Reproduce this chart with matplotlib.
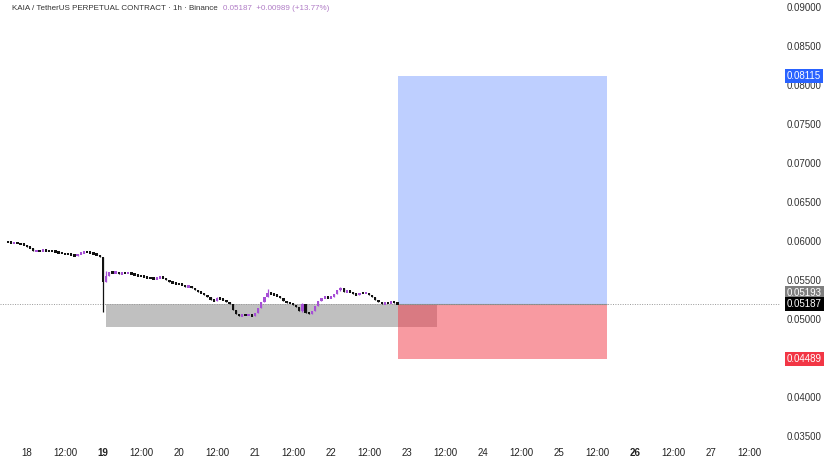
import matplotlib
matplotlib.use("Agg")
import matplotlib.pyplot as plt
from matplotlib.patches import Rectangle

# KAIA / USDT perp, 1h candles, first candle = Nov 17 18:00 (hour -6, hour 0 = Nov 18 00:00)
start_hour = -6
first_open = 0.05995
closes = [
    0.05987, 0.05974, 0.05974, 0.05968, 0.05962, 0.05949,             # 17th evening
    0.05923, 0.05910, 0.05872, 0.05878, 0.05872, 0.05885, 0.05872, 0.05870,
    0.05868, 0.05859, 0.05846, 0.05840, 0.05833, 0.05830, 0.05821, 0.05808,
    0.05833, 0.05846, 0.05859, 0.05855, 0.05846, 0.05833, 0.05821, 0.05795,  # 18th
    0.05474, 0.05551, 0.05603, 0.05590, 0.05603, 0.05577, 0.05590, 0.05588,
    0.05590, 0.05577, 0.05564, 0.05551, 0.05548, 0.05538, 0.05526, 0.05522,
    0.05513, 0.05526, 0.05538, 0.05526, 0.05500, 0.05474, 0.05462, 0.05449,  # 19th
    0.05446, 0.05436, 0.05410, 0.05423, 0.05397, 0.05372, 0.05346, 0.05333,
    0.05308, 0.05282, 0.05244, 0.05231, 0.05269, 0.05256, 0.05244, 0.05218,
    0.05192, 0.05115, 0.05064, 0.05038, 0.05051, 0.05045, 0.05051, 0.05038,  # 20th
    0.05077, 0.05141, 0.05218, 0.05282, 0.05333, 0.05321, 0.05308, 0.05295,
    0.05269, 0.05231, 0.05205, 0.05200, 0.05179, 0.05154, 0.05103, 0.05192,
    0.05077, 0.05070, 0.05103, 0.05167, 0.05231, 0.05269, 0.05282, 0.05269,  # 21st
    0.05282, 0.05321, 0.05372, 0.05397, 0.05346, 0.05359, 0.05346, 0.05321,
    0.05308, 0.05333, 0.05330, 0.05333, 0.05308, 0.05282, 0.05244, 0.05218,
    0.05192, 0.05205, 0.05200, 0.05218, 0.05210, 0.05187,                    # 22nd
]
# candles with a visible wick: hour -> (high, low)
wicks = {24: (0.05795, 0.05090), 25: (0.05610, 0.05474), 76: (0.05390, 0.05282),
         87: (0.05205, 0.05090), 99: (0.05410, 0.05359), 60: (0.05282, 0.05231)}

# long position tool + support zone
trade_start, trade_end = 117.2, 183.2
entry, target, stop, last = 0.05193, 0.08115, 0.04489, 0.05187
zone_start, zone_end, zone_low = 25, 129.5, 0.0490

tick_hours = list(range(0, 229, 12))
tick_labels = ["18", "12:00", "19", "12:00", "20", "12:00", "21", "12:00", "22", "12:00",
               "23", "12:00", "24", "12:00", "25", "12:00", "26", "12:00", "27", "12:00"]
bold_labels = ["19", "26"]
price_ticks = [0.035, 0.040, 0.045, 0.050, 0.055, 0.060, 0.065, 0.070, 0.075, 0.080, 0.085, 0.090]

up_color = "#a64fd6"
down_color = "#111111"

plt.rcParams["font.family"] = ["Liberation Sans", "DejaVu Sans"]
fig = plt.figure(figsize=(8.29, 4.67), dpi=100)
ax = fig.add_axes([0.0, 0.058, 0.941, 0.942])

# candles
opens = [first_open] + closes[:-1]
for i, (o, c) in enumerate(zip(opens, closes)):
    h = start_hour + i
    col = up_color if c >= o else down_color
    hi, lo = wicks.get(h, (max(o, c), min(o, c)))
    ax.vlines(h, lo, hi, color=col, lw=0.9, zorder=5)
    body = max(abs(c - o), 0.0003)
    ax.bar(h, body, bottom=min(o, c) - (body - abs(c - o)) / 2, width=0.72,
           color=col, zorder=6, linewidth=0)

# zone and position boxes
ax.add_patch(Rectangle((zone_start, zone_low), zone_end - zone_start, entry - zone_low,
                       facecolor="#c0c0c0", edgecolor="none", zorder=1))
ax.add_patch(Rectangle((trade_start, entry), trade_end - trade_start, target - entry,
                       facecolor=(41/255, 98/255, 1.0, 0.3), edgecolor="none", zorder=2))
ax.add_patch(Rectangle((trade_start, stop), trade_end - trade_start, entry - stop,
                       facecolor=(242/255, 54/255, 69/255, 0.5), edgecolor="none", zorder=2))
ax.hlines(entry, trade_start, trade_end, color="#8a8a8a", lw=0.8, zorder=3)
ax.axhline(last, color="#999999", lw=0.7, ls=(0, (1, 1.5)), zorder=4)

ax.set_xlim(-8.5, 237.8)
ax.set_ylim(0.03449, 0.0909)

for s in ax.spines.values():
    s.set_visible(False)
ax.set_xticks(tick_hours)
ax.set_xticklabels(tick_labels)
for lab in ax.get_xticklabels():
    if lab.get_text() in bold_labels:
        lab.set_fontweight("bold")
ax.tick_params(axis="x", length=0, labelsize=7, colors="#222222", pad=6)
ax.yaxis.tick_right()
ax.set_yticks(price_ticks)
ax.set_yticklabels([f"{p:.5f}" for p in price_ticks])
ax.tick_params(axis="y", length=0, labelsize=7, colors="#333333", pad=5)

# price labels on the right scale
def price_tag(value, face, dy=0):
    ax.annotate(f"{value:.5f}", xy=(1.0, value), xycoords=("axes fraction", "data"),
                xytext=(5, dy), textcoords="offset points", ha="left", va="center",
                fontsize=7, color="white", zorder=10, annotation_clip=False,
                bbox=dict(boxstyle="square,pad=0.2", fc=face, ec="none"))

price_tag(target, "#2962ff")
price_tag(entry, "#7f7f7f", dy=8)
price_tag(last, "#000000")
price_tag(stop, "#f23645")

# header line: symbol in grey, then last price / change in purple
title = fig.text(12 / 829, 1 - 8 / 467, "KAIA / TetherUS PERPETUAL CONTRACT · 1h · Binance",
                 fontsize=5.8, color="#333333", va="center", ha="left")
fig.canvas.draw()
bb = title.get_window_extent(fig.canvas.get_renderer())
fig.text((bb.x1 + 5) / 829, 1 - 8 / 467, "0.05187  +0.00989 (+13.77%)",
         fontsize=5.8, color="#b07cc6", va="center", ha="left")

fig.savefig("out.png", dpi=100)
